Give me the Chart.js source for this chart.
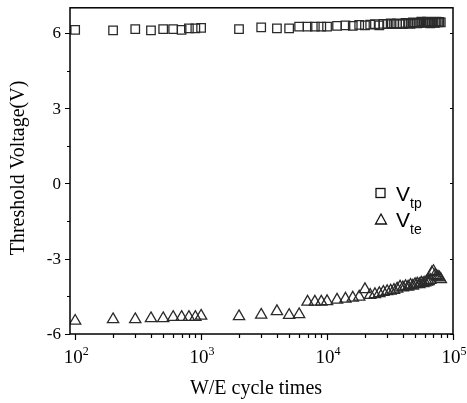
<!DOCTYPE html>
<html lang="en">
<head>
  <meta charset="UTF-8">
  <title>Threshold Voltage vs W/E cycles</title>
  <script src="https://cdn.jsdelivr.net/npm/chart.js"></script>
  <style>
    body { margin: 0; background: #fff; }
    canvas { display: block; }
  </style>
</head>
<body>
  <canvas id="chart" width="467" height="403"></canvas>
  <script>
    // W/E cycle counts (shared by both series)
    const cycles = [100, 200, 300, 400, 500, 600, 700, 800, 900, 1000,
      2000, 3000, 4000, 5000, 6000, 7000, 8000, 9000, 10000,
      12000, 14000, 16000, 18000, 20000, 22000, 24000, 26000, 28000, 30000,
      32000, 34000, 36000, 38000, 40000, 42000, 44000, 46000, 48000, 50000,
      52000, 54000, 56000, 58000, 60000, 62000, 64000, 66000, 68000, 70000,
      72000, 74000, 76000, 78000, 80000];

    const vtp = [6.12, 6.10, 6.15, 6.10, 6.15, 6.15, 6.12, 6.18, 6.18, 6.20,
      6.15, 6.22, 6.18, 6.18, 6.25, 6.25, 6.25, 6.25, 6.25,
      6.28, 6.30, 6.28, 6.32, 6.30, 6.33, 6.35, 6.30, 6.36, 6.35,
      6.38, 6.35, 6.38, 6.36, 6.35, 6.40, 6.38, 6.36, 6.42, 6.40,
      6.38, 6.40, 6.45, 6.42, 6.40, 6.45, 6.42, 6.38, 6.44, 6.42,
      6.40, 6.45, 6.42, 6.44, 6.42];

    const vte = [-5.48, -5.42, -5.42, -5.38, -5.38, -5.33, -5.33, -5.33, -5.33, -5.28,
      -5.30, -5.24, -5.10, -5.25, -5.22, -4.72, -4.72, -4.72, -4.70,
      -4.64, -4.60, -4.56, -4.52, -4.22, -4.45, -4.42, -4.38, -4.33, -4.30,
      -4.28, -4.25, -4.20, -4.12, -4.15, -4.10, -4.12, -4.05, -4.08, -4.02,
      -4.00, -4.02, -3.96, -3.98, -3.95, -3.92, -3.90, -3.85, -3.55, -3.50,
      -3.65, -3.70, -3.72, -3.75, -3.82];

    const xMajor = [100, 1000, 10000, 100000];
    const xExp = ['2', '3', '4', '5'];
    const yMajor = [-6, -3, 0, 3, 6];
    const yMinor = [-4.5, -1.5, 1.5, 4.5];

    const serif = '"Liberation Serif", "Times New Roman", serif';
    const sans = '"Liberation Sans", Arial, sans-serif';

    const framePlugin = {
      id: 'frame',
      afterDraw(chart) {
        const ctx = chart.ctx;
        const { left, top, right, bottom } = chart.chartArea;
        const x = chart.scales.x, y = chart.scales.y;
        ctx.save();
        ctx.strokeStyle = '#000';
        ctx.lineWidth = 1.5;
        ctx.strokeRect(left, top, right - left, bottom - top);

        // x ticks
        ctx.lineWidth = 1.2;
        ctx.beginPath();
        xMajor.forEach(v => {
          const px = Math.round(x.getPixelForValue(v)) + 0.5;
          ctx.moveTo(px, bottom); ctx.lineTo(px, bottom + 6);
        });
        xMajor.slice(0, 3).forEach(d => {
          for (let m = 2; m <= 9; m++) {
            const px = Math.round(x.getPixelForValue(d * m)) + 0.5;
            ctx.moveTo(px, bottom); ctx.lineTo(px, bottom + 4);
          }
        });
        // y ticks
        yMajor.forEach(v => {
          const py = Math.round(y.getPixelForValue(v)) + 0.5;
          ctx.moveTo(left - 5, py); ctx.lineTo(left, py);
          ctx.moveTo(right, py); ctx.lineTo(right - 3, py);
        });
        yMinor.forEach(v => {
          const py = Math.round(y.getPixelForValue(v)) + 0.5;
          ctx.moveTo(left - 3, py); ctx.lineTo(left, py);
        });
        ctx.stroke();

        ctx.fillStyle = '#000';
        // y labels
        ctx.font = '17px ' + serif;
        ctx.textAlign = 'right';
        ctx.textBaseline = 'middle';
        yMajor.forEach(v => {
          ctx.fillText(String(v), left - 9, y.getPixelForValue(v) + 1);
        });

        // x labels 10^n
        ctx.textAlign = 'left';
        ctx.textBaseline = 'alphabetic';
        xMajor.forEach((v, i) => {
          ctx.font = '19px ' + serif;
          const wb = ctx.measureText('10').width;
          ctx.font = '12px ' + serif;
          const we = ctx.measureText(xExp[i]).width;
          const px = x.getPixelForValue(v) - (wb + we) / 2 + 1;
          ctx.font = '19px ' + serif;
          ctx.fillText('10', px, bottom + 29);
          ctx.font = '12px ' + serif;
          ctx.fillText(xExp[i], px + wb, bottom + 21);
        });

        // axis titles
        ctx.font = '20px ' + serif;
        ctx.textAlign = 'center';
        ctx.fillText('W/E cycle times', 256, bottom + 60);
        ctx.save();
        ctx.translate(24, 168);
        ctx.rotate(-Math.PI / 2);
        ctx.fillText('Threshold Voltage(V)', 0, 0);
        ctx.restore();

        // legend
        ctx.lineWidth = 1.3;
        ctx.strokeStyle = '#111';
        ctx.strokeRect(376, 188.5, 9, 9);
        ctx.beginPath();
        ctx.moveTo(381, 214); ctx.lineTo(386.5, 224); ctx.lineTo(375.5, 224); ctx.closePath();
        ctx.stroke();
        ctx.textAlign = 'left';
        ctx.font = '21px ' + sans;
        ctx.fillText('V', 396, 201);
        ctx.fillText('V', 396, 227);
        ctx.font = '14px ' + sans;
        ctx.fillText('tp', 410, 208);
        ctx.fillText('te', 410, 234);
        ctx.restore();
      }
    };

    new Chart(document.getElementById('chart'), {
      type: 'scatter',
      data: {
        datasets: [
          {
            label: 'Vtp',
            data: cycles.map((c, i) => ({ x: c, y: vtp[i] })),
            pointStyle: 'rect',
            pointRadius: 6,
            borderColor: '#2a2a2a',
            backgroundColor: 'rgba(0,0,0,0)',
            borderWidth: 1.3
          },
          {
            label: 'Vte',
            data: cycles.map((c, i) => ({ x: c, y: vte[i] })),
            pointStyle: 'triangle',
            pointRadius: 6.5,
            borderColor: '#2a2a2a',
            backgroundColor: 'rgba(0,0,0,0)',
            borderWidth: 1.3
          }
        ]
      },
      options: {
        responsive: false,
        animation: false,
        devicePixelRatio: 1,
        layout: { padding: { left: 0, top: 6, right: 14, bottom: 0 } },
        plugins: { legend: { display: false }, tooltip: { enabled: false } },
        scales: {
          x: {
            type: 'logarithmic',
            min: 91,
            max: 100000,
            grid: { display: false },
            border: { display: false },
            ticks: { display: false },
            afterFit(s) { s.height = 69; }
          },
          y: {
            min: -6,
            max: 7,
            grid: { display: false },
            border: { display: false },
            ticks: { display: false },
            afterFit(s) { s.width = 70; }
          }
        }
      },
      plugins: [framePlugin]
    });
  </script>
</body>
</html>
